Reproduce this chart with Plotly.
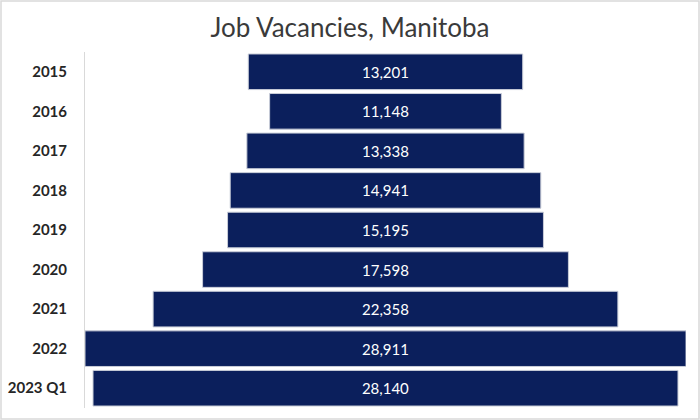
import plotly.graph_objects as go

categories = ["2015", "2016", "2017", "2018", "2019", "2020", "2021", "2022", "2023 Q1"]
vacancies = [13201, 11148, 13338, 14941, 15195, 17598, 22358, 28911, 28140]

W, H = 700, 420
ML, MR, MT, MB = 85, 14, 52, 12

fig = go.Figure(go.Funnel(
    y=categories,
    x=vacancies,
    texttemplate="%{value:,}",
    textposition="inside",
    insidetextanchor="middle",
    textfont=dict(family="Lato", size=15, color="white"),
    marker=dict(color="#0b1f5c", line=dict(color="#c9cdd8", width=1)),
    connector=dict(visible=False),
))

half = max(vacancies) / 2
pw, ph = W - ML - MR, H - MT - MB
fig.update_layout(
    width=W, height=H,
    margin=dict(l=ML, r=MR, t=MT, b=MB, autoexpand=False),
    paper_bgcolor="white", plot_bgcolor="white",
    title=dict(text="Job Vacancies, Manitoba", x=0.5, xanchor="center", y=1 - 28 / H, yanchor="middle",
               font=dict(family="Lato", size=26, color="#3a3a3a")),
    xaxis=dict(visible=False, range=[-half, half], automargin=False),
    yaxis=dict(showline=True, linecolor="#d9d9d9", linewidth=1, ticks="", ticklen=0, automargin=False,
               tickfont=dict(family="Lato", size=15, color="#262626", weight="bold"),
               ticklabelstandoff=14),
    funnelgap=0.1,
    showlegend=False,
    shapes=[dict(type="rect", xref="paper", yref="paper",
                 x0=(1 - ML) / pw, x1=1 + (MR - 1) / pw,
                 y0=-(MB - 1) / ph, y1=1 + (MT - 1) / ph,
                 line=dict(color="#d9d9d9", width=1.5))],
)

fig.write_html("out.html", config={"displayModeBar": False},
               post_script="document.body.style.margin='0';")
